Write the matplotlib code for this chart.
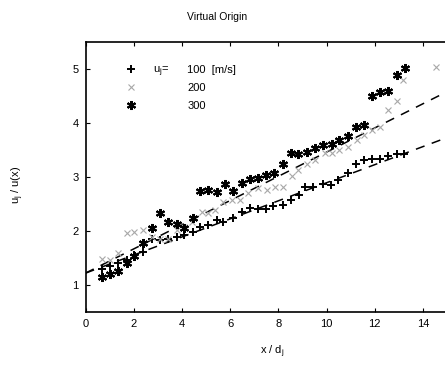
import matplotlib
matplotlib.use('Agg')
import matplotlib.pyplot as plt

plt.rcParams['font.family'] = ['Liberation Sans', 'DejaVu Sans']
plt.rcParams['mathtext.default'] = 'regular'

# u_j = 100 m/s
x100 = [0.67, 1.02, 1.35, 1.71, 2.01, 2.39, 2.75, 3.09, 3.41, 3.78, 4.09, 4.46, 4.75,
        5.10, 5.44, 5.72, 6.13, 6.48, 6.83, 7.17, 7.49, 7.79, 8.18, 8.51, 8.86, 9.11,
        9.45, 9.87, 10.19, 10.49, 10.90, 11.22, 11.57, 11.88, 12.22, 12.56, 12.91, 13.23]
y100 = [1.30, 1.36, 1.40, 1.47, 1.56, 1.62, 1.85, 1.83, 1.85, 1.88, 1.93, 1.99, 2.07,
        2.11, 2.20, 2.17, 2.24, 2.36, 2.42, 2.40, 2.40, 2.47, 2.48, 2.57, 2.67, 2.81,
        2.81, 2.87, 2.85, 2.94, 3.08, 3.25, 3.31, 3.33, 3.33, 3.39, 3.42, 3.42]

# u_j = 200 m/s
x200 = [0.67, 1.02, 1.35, 1.71, 2.01, 2.39, 2.75, 3.09, 3.41, 3.78, 4.09, 4.41, 4.82,
        5.10, 5.37, 5.72, 6.07, 6.41, 6.76, 7.17, 7.52, 7.86, 8.21, 8.56, 8.83, 9.18,
        9.52, 9.94, 10.22, 10.53, 10.90, 11.25, 11.56, 11.88, 12.22, 12.56, 12.91, 13.19, 14.54]
y200 = [1.49, 1.46, 1.59, 1.96, 1.99, 2.02, 1.89, 1.86, 1.85, 2.02, 2.08, 2.17, 2.36,
        2.33, 2.39, 2.54, 2.57, 2.57, 2.70, 2.79, 2.76, 2.82, 2.82, 3.01, 3.13, 3.25,
        3.31, 3.44, 3.45, 3.50, 3.56, 3.69, 3.78, 3.87, 3.93, 4.24, 4.40, 4.80, 5.04]

# u_j = 300 m/s
x300 = [0.67, 1.02, 1.35, 1.71, 2.01, 2.39, 2.75, 3.09, 3.41, 3.78, 4.09, 4.46, 4.75,
        5.10, 5.44, 5.79, 6.13, 6.48, 6.83, 7.17, 7.49, 7.82, 8.18, 8.51, 8.83, 9.18,
        9.52, 9.87, 10.22, 10.53, 10.88, 11.22, 11.56, 11.90, 12.23, 12.56, 12.91, 13.26]
y300 = [1.15, 1.20, 1.26, 1.40, 1.54, 1.78, 2.06, 2.33, 2.17, 2.13, 2.06, 2.25, 2.75,
        2.76, 2.73, 2.87, 2.75, 2.88, 2.96, 2.98, 3.04, 3.07, 3.25, 3.45, 3.42, 3.47,
        3.53, 3.59, 3.62, 3.69, 3.76, 3.92, 3.96, 4.50, 4.58, 4.60, 4.89, 5.01]

# linear fits (virtual origin)
fit_x = [0, 15]
fit100 = [1.22, 3.73]
fit200 = [1.22, 4.58]

fig = plt.figure(figsize=(4.45, 3.68), dpi=100)
ax = fig.add_axes([85.5 / 445, 56 / 368, 361.5 / 445, 270 / 368])

ax.plot(fit_x, fit100, color='black', lw=1.1, dashes=(6, 5))
ax.plot(fit_x, fit200, color='black', lw=1.1, dashes=(6, 5))
p1, = ax.plot(x100, y100, ls='none', marker='+', color='black', ms=5.5, mew=1.4)
p2, = ax.plot(x200, y200, ls='none', marker='x', color='#a8a8a8', ms=4.5, mew=0.8)
p3, = ax.plot(x300, y300, ls='none', marker=(6, 2, 0), color='black', ms=6.5, mew=1.5)

ax.set_xlim(0, 15)
ax.set_ylim(0.5, 5.5)
ax.set_xticks([0, 2, 4, 6, 8, 10, 12, 14])
ax.set_yticks([1, 2, 3, 4, 5])
ax.tick_params(direction='in', length=3, width=0.8, top=True, right=False,
               labelsize=8, pad=5)
ax.spines['right'].set_visible(False)
for s in ax.spines.values():
    s.set_linewidth(1.2)

leg = ax.legend([p1, p2, p3], ['100  [m/s]', '200', '300'], loc='upper left',
                bbox_to_anchor=(125 / 445, 1 - 65 / 368), bbox_transform=fig.transFigure,
                frameon=False, borderpad=0, borderaxespad=0, handlelength=1.0,
                handletextpad=4.6, labelspacing=0.7, numpoints=1, fontsize=8)
fig.text(153 / 445, 1 - 71.7 / 368, '$u_j$=', fontsize=8, va='center', ha='left')

fig.text(217 / 445, 1 - 17 / 368, 'Virtual Origin', fontsize=7.5, ha='center', va='center')
fig.text(272 / 445, 1 - 352 / 368, 'x / $d_j$', fontsize=8, ha='center', va='center')
fig.text(18 / 445, 1 - 185 / 368, '$u_j$ / u(x)', fontsize=8, ha='center', va='center',
         rotation=90)

fig.savefig('out.png', dpi=100)
